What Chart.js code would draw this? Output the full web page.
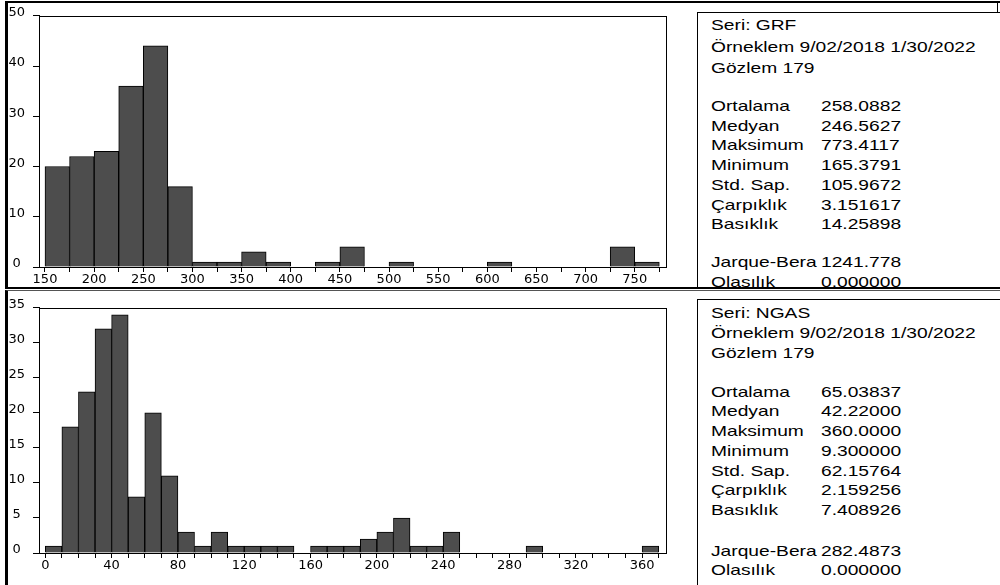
<!DOCTYPE html>
<html>
<head>
<meta charset="utf-8">
<script src="https://cdn.jsdelivr.net/npm/chart.js@4.4.1/dist/chart.umd.min.js"></script>
<style>
  html, body { margin: 0; padding: 0; background: #fff; }
  body { width: 1000px; height: 585px; position: relative; overflow: hidden;
         font-family: "Liberation Sans", Arial, sans-serif; }
  .panel { position: absolute; left: 0; width: 1000px; overflow: hidden; }
  #panelTop { top: 0; height: 289px; }
  #panelBottom { top: 290px; height: 295px; }
  .frame { position: absolute; box-sizing: border-box; }
  canvas { position: absolute; left: 0; }
  .statbox { position: absolute; left: 697px; width: 303px; box-sizing: border-box;
             border-left: 1px solid #000; border-top: 1px solid #000; }
  .txt { position: absolute; font-size: 15px; line-height: 18px; white-space: nowrap;
         transform: scaleX(1.28); transform-origin: 0 50%; color: #000; }
</style>
</head>
<body>
<div class="panel" id="panelTop">
  <div class="frame" style="left:5px;top:1px;width:995px;height:288px;border-left:3px solid #000;border-top:2px solid #000;border-bottom:2px solid #000;"></div>
  <div class="frame" style="left:997px;top:1px;width:1px;height:12px;background:#000;"></div>
  <div class="statbox" style="top:12px;height:290px;"></div>
  <canvas id="grfChart" width="690" height="289" style="top:0;width:690px;height:289px;"></canvas>
</div>
<div class="panel" id="panelBottom">
  <div class="frame" style="left:5px;top:0;width:995px;height:295px;border-left:3px solid #000;border-top:1px solid #555;"></div>
  <div class="statbox" style="top:9px;height:300px;"></div>
  <canvas id="ngasChart" width="690" height="293" style="top:2px;width:690px;height:293px;"></canvas>
</div>

<script>
// ── GRF histogramı ──
const GRF_BIN_EDGES = [150, 175, 200, 225, 250, 275, 300, 325, 350, 375, 400, 425, 450,
                       475, 500, 525, 550, 575, 600, 625, 650, 675, 700, 725, 750, 775];
const GRF_COUNTS    = [20, 22, 23, 36, 44, 16, 1, 1, 3, 1, 0, 1, 4,
                       0, 1, 0, 0, 0, 1, 0, 0, 0, 0, 4, 1];
const GRF_X_LABELS  = [150, 200, 250, 300, 350, 400, 450, 500, 550, 600, 650, 700, 750];

// ── NGAS histogramı ──
const NGAS_BIN_EDGES = [0, 10, 20, 30, 40, 50, 60, 70, 80, 90, 100, 110, 120, 130, 140, 150,
                        160, 170, 180, 190, 200, 210, 220, 230, 240, 250, 260, 270, 280, 290,
                        300, 310, 320, 330, 340, 350, 360, 370];
const NGAS_COUNTS    = [1, 18, 23, 32, 34, 8, 20, 11, 3, 1, 3, 1, 1, 1, 1, 0,
                        1, 1, 1, 2, 3, 5, 1, 1, 3, 0, 0, 0, 0, 1,
                        0, 0, 0, 0, 0, 0, 1];
const NGAS_X_LABELS  = [0, 40, 80, 120, 160, 200, 240, 280, 320, 360];

// ── İstatistik tabloları ──
const SAMPLE_TEXT = 'Örneklem 9/02/2018 1/30/2022';
const OBS_TEXT    = 'Gözlem 179';
const STAT_LABELS = ['Ortalama', 'Medyan', 'Maksimum', 'Minimum', 'Std. Sap.',
                     'Çarpıklık', 'Basıklık', 'Jarque-Bera', 'Olasılık'];
const GRF_STATS   = ['258.0882', '246.5627', '773.4117', '165.3791', '105.9672',
                     '3.151617', '14.25898', '1241.778', '0.000000'];
const NGAS_STATS  = ['65.03837', '42.22000', '360.0000', '9.300000', '62.15764',
                     '2.159256', '7.408926', '282.4873', '0.000000'];

// grafik çerçevesi (üst ve sağ kenar)
const framePlugin = {
  id: 'frame',
  afterDatasetsDraw(chart) {
    const a = chart.chartArea, c = chart.ctx;
    c.save();
    c.strokeStyle = '#000';
    c.lineWidth = 1;
    c.strokeRect(Math.round(a.left) + 0.5, Math.round(a.top) + 0.5,
                 Math.round(a.right - a.left), Math.round(a.bottom - a.top));
    c.restore();
  }
};

const TICK_FONT = { family: 'DejaVu Sans', size: 13 };

function drawHistogram(canvasId, edges, counts, xMin, xMax, yMax, yStep, xLabels, pad, xAxisHeight) {
  const data = [];
  for (let i = 0; i < counts.length; i++) {
    if (counts[i] > 0) data.push({ x: (edges[i] + edges[i + 1]) / 2, y: counts[i] });
  }

  new Chart(document.getElementById(canvasId), {
    type: 'bar',
    data: {
      datasets: [{
        data,
        backgroundColor: '#4d4d4d',
        borderColor: '#000',
        borderWidth: 1,
        barPercentage: 1,
        categoryPercentage: 1,
        borderSkipped: 'start',
      }]
    },
    options: {
      responsive: false,
      animation: false,
      events: [],
      layout: { padding: pad },
      plugins: { legend: { display: false }, tooltip: { enabled: false } },
      scales: {
        x: {
          type: 'linear',
          min: xMin, max: xMax,
          offset: false,
          afterBuildTicks: s => { s.ticks = edges.map(v => ({ value: v })); },
          afterFit: s => { s.height = xAxisHeight; },
          grid: { display: true, offset: false, drawOnChartArea: false, drawTicks: true, tickLength: 5, color: '#000' },
          border: { display: true, color: '#000' },
          ticks: {
            autoSkip: false, maxRotation: 0, minRotation: 0, padding: 0,
            color: '#000', font: TICK_FONT,
            callback: v => xLabels.includes(v) ? String(v) : ''
          }
        },
        y: {
          min: 0, max: yMax,
          afterFit: s => { s.width = 32; },
          grid: { drawOnChartArea: false, tickLength: 6, color: '#000' },
          border: { display: true, color: '#000' },
          ticks: { stepSize: yStep, crossAlign: 'center', padding: 8, labelOffset: -3, color: '#000', font: TICK_FONT }
        }
      }
    },
    plugins: [framePlugin]
  });
}

function addText(panelId, text, x, yCenter) {
  const el = document.createElement('div');
  el.className = 'txt';
  el.textContent = text;
  el.style.left = x + 'px';
  el.style.top = (yCenter - 9) + 'px';
  document.getElementById(panelId).appendChild(el);
}

function renderStats(panelId, seriesName, values, headerY, statY) {
  addText(panelId, 'Seri: ' + seriesName, 711, headerY[0]);
  addText(panelId, SAMPLE_TEXT, 711, headerY[1]);
  addText(panelId, OBS_TEXT, 711, headerY[2]);
  STAT_LABELS.forEach((lab, i) => {
    addText(panelId, lab, 711, statY[i]);
    addText(panelId, values[i], 821, statY[i]);
  });
}

document.addEventListener('DOMContentLoaded', () => {
  drawHistogram('grfChart', GRF_BIN_EDGES, GRF_COUNTS, 143.9, 781.8, 50, 10, GRF_X_LABELS,
                { left: 7, top: 13, right: 24, bottom: 0 }, 22);
  drawHistogram('ngasChart', NGAS_BIN_EDGES, NGAS_COUNTS, -3.8, 374.4, 35, 5, NGAS_X_LABELS,
                { left: 7, top: 7, right: 24, bottom: 0 }, 32);

  renderStats('panelTop', 'GRF', GRF_STATS,
              [25, 46.7, 68.3], [106, 125.7, 145.4, 165.1, 184.8, 204.5, 224.2, 262.3, 281.7]);
  renderStats('panelBottom', 'NGAS', NGAS_STATS,
              [23.3, 43.3, 63.3], [101.7, 121.4, 141.1, 160.8, 180.5, 200.2, 219.9, 260.7, 280]);
});
</script>
</body>
</html>
